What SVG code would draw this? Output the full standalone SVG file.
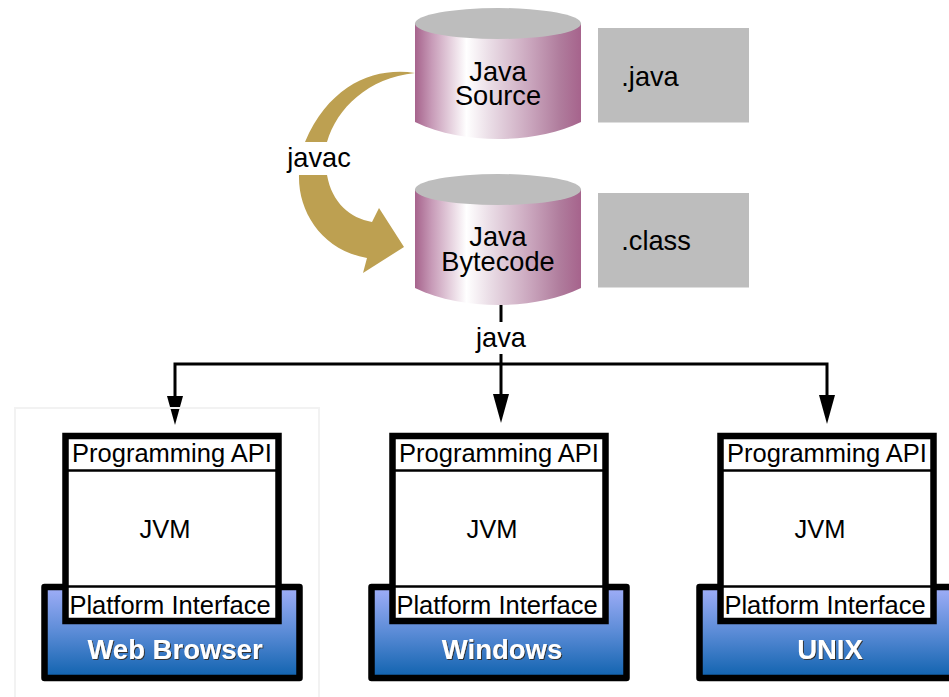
<svg xmlns="http://www.w3.org/2000/svg" width="949" height="697" viewBox="0 0 949 697">
<style>
text{font-family:"Liberation Sans",Arial,sans-serif;fill:#000;text-anchor:middle}
.t{font-size:27.200px}
.s{font-size:25.500px}
.b{font-size:27.500px;font-weight:bold;fill:#fff;filter:url(#sh)}
.cyl{fill:url(#cy)}
.top{fill:#bdbdbd}
.note{fill:#bdbdbd}
.line{fill:none;stroke:#000;stroke-width:3}
.div{stroke:#000;stroke-width:2.5;fill:none}
.base{fill:url(#bl);stroke:#000;stroke-width:6.5;stroke-linejoin:round}
.jvm{fill:#fff;stroke:#000;stroke-width:6.5}
</style>
<defs>
<linearGradient id="cy" x1="0" y1="0" x2="1" y2="0">
<stop offset="0" stop-color="#a6638c"/>
<stop offset="0.1" stop-color="#c79ab7"/>
<stop offset="0.31" stop-color="#ffffff"/>
<stop offset="0.45" stop-color="#eadde6"/>
<stop offset="0.7" stop-color="#c9a4bc"/>
<stop offset="0.87" stop-color="#b07d9d"/>
<stop offset="1" stop-color="#a6638c"/>
</linearGradient>
<linearGradient id="bl" x1="0" y1="0" x2="0" y2="1">
<stop offset="0" stop-color="#a0aef8"/>
<stop offset="0.5" stop-color="#5a8bd6"/>
<stop offset="1" stop-color="#0f62ae"/>
</linearGradient>
<filter id="sh" x="-5%" y="-10%" width="110%" height="125%"><feDropShadow dx="1" dy="1" stdDeviation="0.4" flood-color="#333"/></filter>
</defs>

<g id="javac-arrow">
<path d="M415 73C375 67 330 84 305 142L299 175C298 212 322 250 367 258L363 273L404 247L379 208L372 222C350 218 332 203 327 175L327 142C337 108 368 78 415 73Z" fill="#bda051"/>
<rect x="284" y="142" width="70" height="33" fill="#fff"/>
<text class="t" x="319" y="167">javac</text>
</g>

<g id="connectors">
<path class="line" d="M501 305V322"/>
<path class="line" d="M175 396V364H827V396"/>
<path class="line" d="M501 354V394"/>
<path d="M167 396H183L175 425Z"/>
<path d="M493 394H509L501 423Z"/>
<path d="M819 395H835L827 424Z"/>
</g>

<g id="browser-frame"><rect x="15" y="408" width="304" height="292" fill="none" stroke="#f2f2f2" stroke-width="2"/></g>

<g id="java-source">
<path class="cyl" d="M415 23V122C440 134 470 139 498 139C526 139 556 134 581 122V23Z"/>
<ellipse class="top" cx="498" cy="23.500" rx="83" ry="15.500"/>
<text class="t" x="498" y="81">Java</text>
<text class="t" x="498" y="105">Source</text>
</g>
<g id="java-note"><rect class="note" x="598" y="28" width="151" height="94.500"/><text class="t" x="650" y="86">.java</text></g>

<g id="java-bytecode">
<path class="cyl" d="M415 189V288C440 300 470 305 498 305C526 305 556 300 581 288V189Z"/>
<ellipse class="top" cx="498" cy="189.500" rx="83" ry="15.500"/>
<text class="t" x="498" y="246">Java</text>
<text class="t" x="498" y="271">Bytecode</text>
</g>
<g id="class-note"><rect class="note" x="598" y="193" width="151" height="94.500"/><text class="t" x="656" y="250">.class</text></g>

<text class="t" x="501" y="347">java</text>

<g id="web-browser">
<rect class="base" x="44.500" y="587" width="255" height="91"/>
<text class="b" x="175" y="659">Web Browser</text>
<rect class="jvm" x="65.500" y="436" width="213" height="185"/>
<path class="div" d="M68 470.500H276M68 586.500H276"/>
<text class="s" x="172" y="462">Programming API</text>
<text class="s" x="165" y="538">JVM</text>
<text class="s" x="170" y="614">Platform Interface</text>
</g>

<g id="windows">
<rect class="base" x="371.500" y="587" width="255" height="91"/>
<text class="b" x="502" y="659">Windows</text>
<rect class="jvm" x="392.500" y="436" width="213" height="185"/>
<path class="div" d="M395 470.500H603M395 586.500H603"/>
<text class="s" x="499" y="462">Programming API</text>
<text class="s" x="492" y="538">JVM</text>
<text class="s" x="497" y="614">Platform Interface</text>
</g>

<g id="unix">
<rect class="base" x="699.500" y="587" width="255" height="91"/>
<text class="b" x="830" y="659">UNIX</text>
<rect class="jvm" x="720.500" y="436" width="213" height="185"/>
<path class="div" d="M723 470.500H931M723 586.500H931"/>
<text class="s" x="827" y="462">Programming API</text>
<text class="s" x="820" y="538">JVM</text>
<text class="s" x="825" y="614">Platform Interface</text>
</g>
</svg>
